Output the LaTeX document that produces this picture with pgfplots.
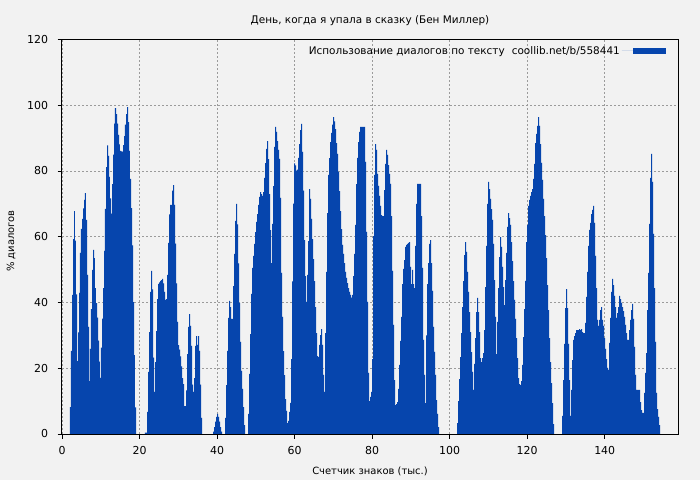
\documentclass[border=0pt]{standalone}
\usepackage{fontspec}
\setmainfont{DejaVu Sans}
\usepackage{pgfplots}
\pgfplotsset{compat=1.18}
\definecolor{bg}{RGB}{242,242,242}
\definecolor{barblue}{RGB}{6,69,173}
\definecolor{gridgray}{RGB}{155,155,155}
\begin{document}
\begin{tikzpicture}
\fill[bg] (0bp,0bp) rectangle (700bp,480bp);
\begin{axis}[
  at={(62bp,46bp)}, anchor=south west,
  scale only axis, width=616bp, height=394.5bp,
  xmin=0, xmax=158.9, ymin=0, ymax=120,
  xtick={0,20,...,140}, ytick={0,20,...,120},
  axis background/.style={fill=bg},
  grid=major,
  major grid style={gridgray, dash pattern=on 2bp off 2bp, line width=0.9bp},
  tick pos=left, tick align=outside, major tick length=4.5bp,
  tick style={black, line width=0.9bp},
  axis line style={black, line width=1bp},
  /pgf/number format/assume math mode=true,
  tick label style={font=\fontsize{11}{13}\selectfont},
  xticklabel style={yshift=-4bp},
  yticklabel style={xshift=-6bp},
  label style={font=\fontsize{10.5}{12}\selectfont},
  every axis title/.style={font=\fontsize{10.5}{12}\selectfont, at={(0.5,1)}, anchor=base, yshift=16bp},
  title={День, когда я упала в сказку (Бен Миллер)},
  xlabel={Счетчик знаков (тыс.)},
  every axis x label/.style={at={(0.5,0)}, anchor=base, yshift=-40bp},
  ylabel={\% диалогов},
  every axis y label/.style={at={(-0.0779,0.489)}, anchor=base, rotate=90},
  legend plot pos=right,
  legend style={draw=none, fill=none, at={(1,1)}, anchor=north east, xshift=-12bp, yshift=-4.5bp,
    font=\fontsize{10.5}{12}\selectfont, inner sep=0pt},
  legend image code/.code={\path (0bp,0bp) -- (11bp,0bp); \fill[barblue] (11bp,-3.2bp) rectangle (44bp,3.2bp);},
]
\addplot[fill=barblue, draw=none, const plot] coordinates {
(2.06,8.2)(2.32,25.3)(2.58,42.3)(2.84,59.3)(3.10,67.8)(3.35,58.8)(3.61,42.5)(3.87,22.2)(4.13,30.9)(4.39,42.9)
(4.64,55.1)(4.90,62.4)(5.16,65.4)(5.42,68.6)(5.68,71.2)(5.93,73.3)(6.19,65.1)(6.45,48.4)(6.71,32.6)(6.97,16.1)
(7.22,25.9)(7.48,38.0)(7.74,49.9)(8.00,56.0)(8.26,53.5)(8.51,44.4)(8.77,39.8)(9.03,35.4)(9.29,28.4)(9.55,22.0)
(9.80,17.1)(10.06,26.3)(10.32,35.1)(10.58,44.4)(10.84,55.7)(11.09,68.5)(11.35,81.2)(11.61,87.8)(11.87,84.6)(12.13,78.2)
(12.38,71.7)(12.64,67.0)(12.90,76.0)(13.16,85.0)(13.42,94.4)(13.67,99.1)(13.93,97.3)(14.19,94.4)(14.45,91.0)(14.71,88.1)
(14.96,86.1)(15.22,86.0)(15.48,85.9)(15.74,87.9)(16.00,90.6)(16.25,94.1)(16.51,97.3)(16.77,99.4)(17.03,94.9)(17.29,86.1)
(17.54,77.6)(17.80,68.7)(18.06,57.4)(18.32,40.1)(18.58,24.0)(18.83,8.1)(19.09,0)
(21.41,0.4)(21.67,0.4)(21.93,6.7)(22.19,18.9)(22.45,31.0)(22.70,43.2)(22.96,49.6)(23.22,44.0)(23.48,23.2)(23.74,12.8)
(23.99,21.9)(24.25,31.3)(24.51,41.0)(24.77,45.7)(25.03,46.1)(25.28,46.6)(25.54,46.8)(25.80,47.2)(26.06,45.8)(26.32,43.2)
(26.57,40.8)(26.83,41.0)(27.09,48.4)(27.35,58.1)(27.61,66.8)(27.86,69.7)(28.12,69.7)(28.38,74.0)(28.64,75.7)(28.90,69.7)
(29.15,57.9)(29.41,45.8)(29.67,34.1)(29.93,27.0)(30.19,25.7)(30.44,23.6)(30.70,20.6)(30.96,17.0)(31.22,15.2)(31.48,8.5)
(31.73,8.5)(31.99,13.3)(32.25,24.3)(32.51,32.6)(32.77,36.5)(33.02,32.9)(33.28,26.8)(33.54,15.0)(33.80,12.8)(34.06,17.0)
(34.31,26.8)(34.57,29.8)(34.83,27.1)(35.09,29.8)(35.35,25.3)(35.60,15.0)(35.86,4.9)(36.12,0)
(38.96,0.7)(39.22,2.1)(39.47,3.8)(39.73,5.2)(39.99,6.1)(40.25,5.2)(40.51,3.8)(40.76,2.1)(41.02,0.7)(41.28,0)
(42.05,4.9)(42.31,14.9)(42.57,25.3)(42.83,35.3)(43.09,40.5)(43.34,38.6)(43.60,35.0)(43.86,35.0)(44.12,45.0)(44.38,54.8)
(44.63,64.8)(44.89,70.0)(45.15,63.8)(45.41,51.9)(45.67,39.9)(45.92,28.0)(46.18,19.2)(46.44,13.7)(46.70,8.2)(46.96,2.7)(47.21,0)
(47.99,6.1)(48.25,18.3)(48.50,30.4)(48.76,42.6)(49.02,50.5)(49.28,54.2)(49.54,57.8)(49.79,61.4)(50.05,64.5)(50.31,66.9)
(50.57,69.7)(50.83,72.1)(51.08,73.6)(51.34,73.0)(51.60,72.4)(51.86,73.6)(52.12,77.9)(52.37,82.4)(52.63,86.7)(52.89,89.1)
(53.15,83.6)(53.41,73.0)(53.66,62.0)(53.92,52.0)(54.18,63.9)(54.44,75.4)(54.70,87.3)(54.95,93.4)(55.21,91.9)(55.47,89.1)
(55.73,86.4)(55.99,83.7)(56.24,71.8)(56.50,49.0)(56.76,35.6)(57.02,25.2)(57.28,17.9)(57.53,10.6)(57.79,7.0)(58.05,3.3)
(58.31,4.0)(58.57,6.7)(58.82,9.5)(59.08,22.8)(59.34,46.4)(59.60,70.1)(59.86,82.3)(60.11,81.7)(60.37,80.1)(60.63,80.4)
(60.89,84.0)(61.15,88.2)(61.40,92.4)(61.66,94.3)(61.92,85.8)(62.18,74.0)(62.44,59.0)(62.69,48.0)(62.95,40.2)(63.21,48.4)
(63.47,58.7)(63.73,74.5)(63.98,71.5)(64.24,65.4)(64.50,59.3)(64.76,53.2)(65.02,46.5)(65.27,38.6)(65.53,30.7)(65.79,23.7)
(66.05,23.4)(66.31,27.1)(66.56,30.1)(66.82,31.9)(67.08,27.1)(67.34,18.0)(67.60,12.8)(67.85,30.7)(68.11,49.3)(68.37,67.2)
(68.63,78.8)(68.89,83.9)(69.14,88.8)(69.40,91.6)(69.66,94.1)(69.92,96.4)(70.18,95.1)(70.43,92.7)(70.69,88.5)(70.95,85.2)
(71.21,79.7)(71.47,73.9)(71.72,67.8)(71.98,62.3)(72.24,57.5)(72.50,54.8)(72.76,52.0)(73.01,49.3)(73.27,47.5)(73.53,45.9)
(73.79,44.4)(74.05,43.2)(74.30,42.3)(74.56,41.5)(74.82,42.3)(75.08,48.0)(75.34,54.8)(75.59,63.6)(75.85,76.0)(76.11,84.0)
(76.37,88.8)(76.63,91.9)(76.88,93.4)(77.14,93.4)(77.40,93.4)(77.66,93.4)(77.92,93.4)(78.17,82.8)(78.43,61.5)(78.69,40.2)
(78.95,18.6)(79.21,10.0)(79.46,11.3)(79.72,12.8)(79.98,22.8)(80.24,60.2)(80.50,78.8)(80.75,88.2)(81.01,86.4)(81.27,79.1)
(81.53,75.5)(81.79,72.4)(82.04,69.4)(82.30,66.6)(82.56,66.3)(82.82,66.3)(83.08,74.2)(83.33,82.2)(83.59,86.4)(83.85,84.9)
(84.11,81.8)(84.37,79.1)(84.62,76.1)(84.88,66.3)(85.14,49.6)(85.40,33.2)(85.66,16.4)(85.91,8.8)(86.17,9.1)(86.43,9.7)
(86.69,13.7)(86.95,21.0)(87.20,28.3)(87.46,35.6)(87.72,45.6)(87.98,50.2)(88.24,52.9)(88.49,56.9)(88.75,57.5)(89.01,57.8)
(89.27,58.1)(89.53,58.4)(89.78,50.8)(90.04,45.6)(90.30,49.9)(90.56,45.6)(90.82,44.4)(91.07,57.2)(91.33,70.0)(91.59,76.1)
(91.85,76.1)(92.11,76.1)(92.36,76.1)(92.62,66.3)(92.88,50.5)(93.14,28.6)(93.40,18.0)(93.65,9.4)(93.91,30.0)(94.17,45.6)
(94.43,52.0)(94.69,57.8)(94.94,59.0)(95.20,52.0)(95.46,43.5)(95.72,32.6)(95.98,25.0)(96.23,18.0)(96.49,10.3)(96.75,6.1)
(97.01,2.1)(97.27,0)
(101.91,3.3)(102.17,10.0)(102.43,16.7)(102.68,23.4)(102.94,30.7)(103.20,38.6)(103.46,46.5)(103.72,54.4)(103.97,58.4)(104.23,55.4)
(104.49,49.3)(104.75,43.2)(105.01,37.1)(105.26,31.0)(105.52,24.9)(105.78,18.9)(106.04,13.4)(106.30,21.3)(106.55,29.2)(106.81,37.1)
(107.07,41.4)(107.33,37.1)(107.59,31.0)(107.84,23.1)(108.10,21.9)(108.36,23.1)(108.62,24.6)(108.88,31.6)(109.13,44.7)(109.39,57.2)
(109.65,70.0)(109.91,76.7)(110.17,74.5)(110.42,71.5)(110.68,68.4)(110.94,65.1)(111.20,57.8)(111.46,46.8)(111.71,35.6)(111.97,24.3)
(112.23,34.1)(112.49,44.4)(112.75,53.8)(113.00,59.9)(113.26,56.9)(113.52,50.8)(113.78,44.7)(114.04,39.2)(114.29,46.8)(114.55,55.1)
(114.81,63.0)(115.07,67.2)(115.33,65.7)(115.58,63.6)(115.84,58.4)(116.10,52.6)(116.36,46.5)(116.62,40.8)(116.87,35.0)(117.13,29.2)
(117.39,23.1)(117.65,17.0)(117.91,15.2)(118.16,14.9)(118.42,16.1)(118.68,21.0)(118.94,29.5)(119.20,38.0)(119.45,46.6)(119.71,58.4)
(119.97,63.6)(120.23,69.4)(120.49,71.2)(120.74,72.4)(121.00,73.6)(121.26,74.5)(121.52,77.6)(121.78,82.2)(122.03,88.5)(122.29,91.3)
(122.55,93.7)(122.81,96.4)(123.07,93.7)(123.32,88.2)(123.58,82.5)(123.84,77.3)(124.10,71.5)(124.36,66.3)(124.61,60.5)(124.87,53.5)
(125.13,45.3)(125.39,37.7)(125.65,29.2)(125.90,21.9)(126.16,15.5)(126.42,9.4)(126.68,3.0)(126.94,0)
(129.00,5.5)(129.26,16.4)(129.52,27.4)(129.77,38.3)(130.03,44.1)(130.29,38.3)(130.55,27.4)(130.81,16.4)(131.06,5.5)(131.32,13.4)
(131.58,22.5)(131.84,28.6)(132.10,29.8)(132.35,30.7)(132.61,31.6)(132.87,31.6)(133.13,31.6)(133.39,31.9)(133.64,31.6)(133.90,31.9)
(134.16,31.0)(134.42,30.7)(134.68,30.7)(134.93,33.8)(135.19,41.7)(135.45,49.3)(135.71,57.2)(135.97,62.1)(136.22,64.2)(136.48,66.9)
(136.74,68.2)(137.00,69.4)(137.26,64.2)(137.51,54.2)(137.77,44.4)(138.03,34.7)(138.29,32.9)(138.55,34.7)(138.80,37.7)(139.06,38.6)
(139.32,34.7)(139.58,32.9)(139.84,29.2)(140.09,25.9)(140.35,22.8)(140.61,20.1)(140.87,19.5)(141.13,27.7)(141.38,35.3)(141.64,43.2)
(141.90,47.2)(142.16,45.3)(142.42,42.0)(142.67,38.6)(142.93,35.3)(143.19,36.8)(143.45,38.6)(143.71,42.0)(143.96,41.0)(144.22,39.9)
(144.48,38.6)(144.74,37.4)(145.00,35.6)(145.25,33.2)(145.51,30.7)(145.77,28.6)(146.03,28.6)(146.29,31.6)(146.54,34.7)(146.80,37.7)
(147.06,39.6)(147.32,35.0)(147.58,26.5)(147.83,18.0)(148.09,13.4)(148.35,13.4)(148.61,13.4)(148.87,13.4)(149.12,9.7)(149.38,7.3)
(149.64,6.4)(149.90,6.4)(150.16,12.5)(150.41,18.6)(150.67,24.6)(150.93,37.7)(151.19,49.0)(151.45,63.9)(151.70,77.9)(151.96,85.2)
(152.22,76.7)(152.48,60.9)(152.74,44.4)(152.99,28.0)(153.25,12.5)(153.51,7.6)(153.77,5.2)(154.03,2.7)(154.28,0)
} \closedcycle;
\addlegendentry{Использование диалогов по тексту\hspace{7bp}coollib.net/b/558441}
\end{axis}
\end{tikzpicture}
\end{document}
